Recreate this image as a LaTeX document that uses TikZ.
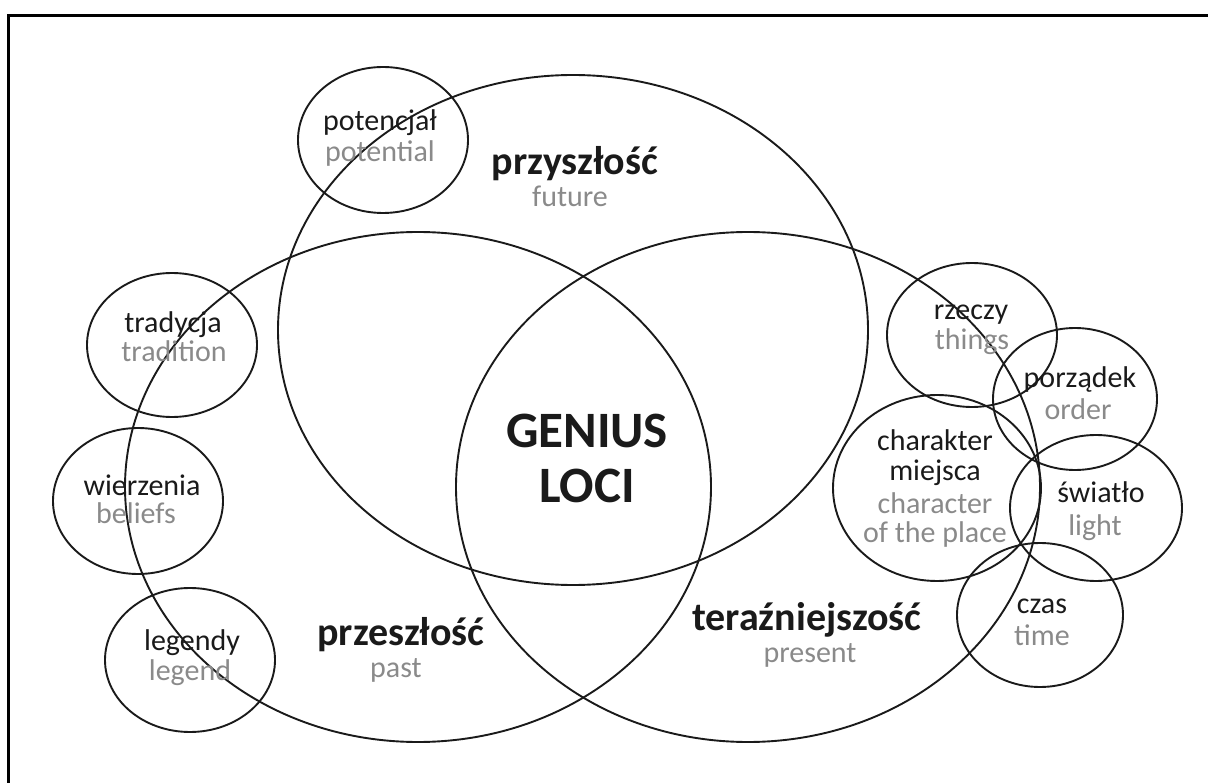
\documentclass[tikz,border=0pt]{standalone}
\usepackage{fontspec}
\setmainfont{Carlito}
\definecolor{engray}{HTML}{8A8A8A}
\definecolor{ink}{HTML}{1A1A1A}
\tikzset{
  big/.style={draw=ink, line width=1.9pt},
  small/.style={draw=ink, line width=1.9pt},
  pl/.style={anchor=base, inner sep=0pt, text=ink, font=\fontsize{30}{30}\selectfont},
  en/.style={anchor=base, inner sep=0pt, text=engray, font=\fontsize{30}{30}\selectfont},
  plbig/.style={anchor=base, inner sep=0pt, text=ink, font=\fontsize{40}{40}\selectfont\bfseries},
  enbig/.style={anchor=base, inner sep=0pt, text=engray, font=\fontsize{30}{30}\selectfont},
  core/.style={anchor=base, inner sep=0pt, text=ink, font=\fontsize{51}{54}\selectfont\bfseries}
}
\begin{document}
\begin{tikzpicture}[x=1pt,y=-1pt]
\useasboundingbox (0,0) rectangle (1208,783);
% frame
\draw[line width=3pt, black] (8.5,783) -- (8.5,15.5) -- (1208,15.5);
% main ellipses
\draw[big] (573,330) ellipse (295 and 255);
\draw[big] (418,487) ellipse (293 and 255);
\draw[big] (748,487) ellipse (292 and 255);
% small ellipses
\draw[small] (383,140) ellipse (85 and 73);
\draw[small] (172,345) ellipse (85 and 72);
\draw[small] (138,501) ellipse (85 and 73);
\draw[small] (190,660) ellipse (85 and 72);
\draw[small] (972,335) ellipse (85 and 72);
\draw[small] (1075,399) ellipse (82 and 71);
\draw[small] (937,488) ellipse (104 and 93);
\draw[small] (1096,508) ellipse (86 and 73);
\draw[small] (1040,615) ellipse (83 and 72);
% texts
\node[core] (g1) at (587,448) {GENIUS};
\node[core] (g2) at (587,502) {LOCI};
\node[plbig] (fut) at (575,175) {przyszłość};
\node[enbig] (futen) at (570,207) {future};
\node[plbig] (past) at (401,645) {przeszłość};
\node[enbig] (pasten) at (396,677) {past};
\node[plbig] (pres) at (807,630) {teraźniejszość};
\node[enbig] (presen) at (810,662) {present};
\node[pl] (pot) at (380,131) {potencjał};
\node[en] (poten) at (380,162) {potential};
\node[pl] (tra) at (173,333) {tradycja};
\node[en] (traen) at (174,362) {tradition};
\node[pl] (wie) at (142,495) {wierzenia};
\node[en] (wieen) at (136,523) {beliefs};
\node[pl] (leg) at (192,650) {legendy};
\node[en] (legen) at (190,680) {legend};
\node[pl] (rze) at (971,320) {rzeczy};
\node[en] (rzeen) at (972,350) {things};
\node[pl] (por) at (1080,388) {porządek};
\node[en] (poren) at (1078,420) {order};
\node[pl] (cha1) at (935,450) {charakter};
\node[pl] (cha2) at (935,480) {miejsca};
\node[en] (chaen1) at (935,513) {character};
\node[en] (chaen2) at (935,542) {of the place};
\node[pl] (swi) at (1101,502) {światło};
\node[en] (swien) at (1095,535) {light};
\node[pl] (cza) at (1042,613) {czas};
\node[en] (czaen) at (1042,645) {time};
\end{tikzpicture}
\end{document}
